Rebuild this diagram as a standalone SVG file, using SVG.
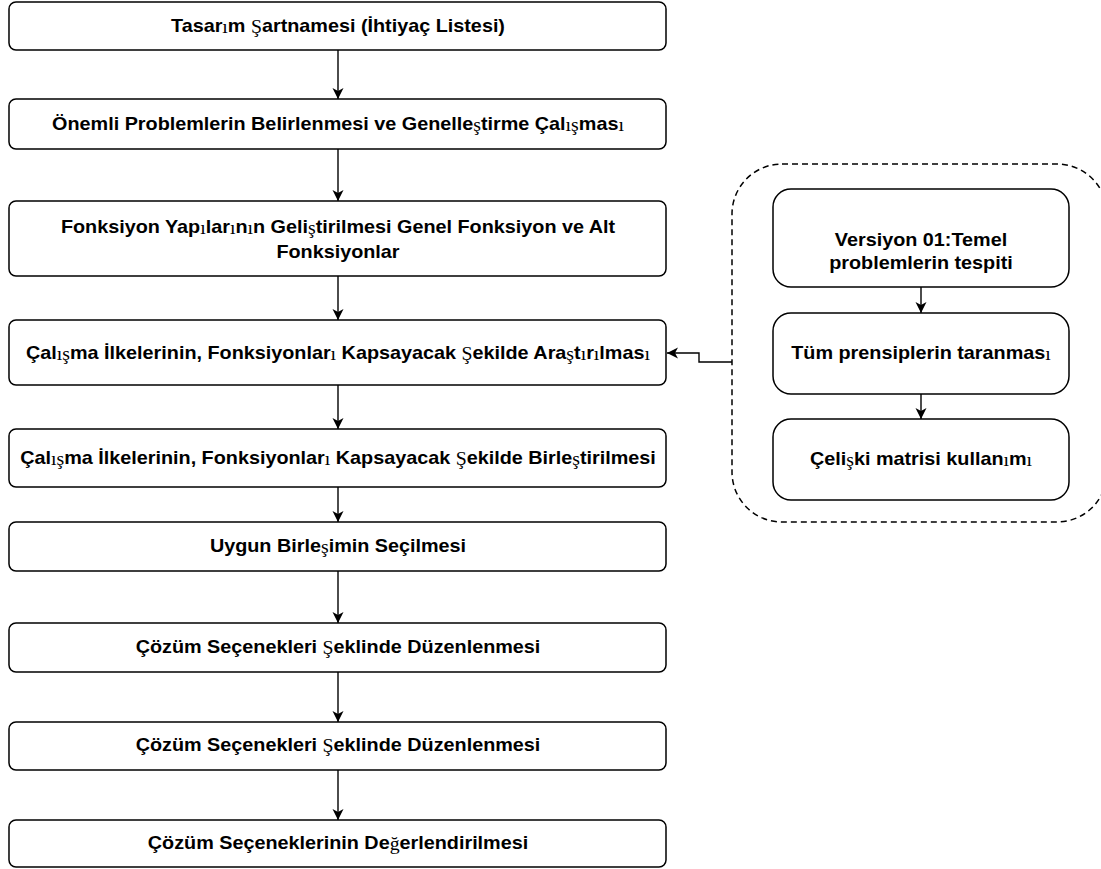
<svg xmlns="http://www.w3.org/2000/svg" width="1101" height="869" viewBox="0 0 1101 869">
<defs>
<style>
.box{fill:#fff;stroke:#000;stroke-width:1.5}
.t{font-family:"Liberation Sans",Arial,sans-serif;font-weight:bold;font-size:18px;fill:#000;text-anchor:middle;dominant-baseline:central}
.s{font-family:"Liberation Serif","Times New Roman",serif;font-weight:normal}
.ln{fill:none;stroke:#000;stroke-width:1.4}
.dash{fill:none;stroke:#000;stroke-width:1.5;stroke-dasharray:6 4}
</style>
<marker id="arr" markerUnits="userSpaceOnUse" markerWidth="12" markerHeight="12" refX="11" refY="6" orient="auto">
<path d="M0,0.5 L11,6 L0,11.5 L3,6 z" fill="#000"/>
</marker>
</defs>
<rect width="1101" height="869" fill="#fff"/>
<g id="container">
<rect class="dash" x="732" y="164" width="375" height="358" rx="50" ry="50"/>
</g>
<g id="connectors">
<line class="ln" x1="338" y1="50" x2="338" y2="99" marker-end="url(#arr)"/>
<line class="ln" x1="338" y1="149" x2="338" y2="201" marker-end="url(#arr)"/>
<line class="ln" x1="338" y1="276" x2="338" y2="320" marker-end="url(#arr)"/>
<line class="ln" x1="338" y1="385" x2="338" y2="429" marker-end="url(#arr)"/>
<line class="ln" x1="338" y1="487" x2="338" y2="522" marker-end="url(#arr)"/>
<line class="ln" x1="338" y1="571" x2="338" y2="623" marker-end="url(#arr)"/>
<line class="ln" x1="338" y1="672" x2="338" y2="722" marker-end="url(#arr)"/>
<line class="ln" x1="338" y1="770" x2="338" y2="820" marker-end="url(#arr)"/>
<line class="ln" x1="921" y1="287" x2="921" y2="313" marker-end="url(#arr)"/>
<line class="ln" x1="921" y1="394" x2="921" y2="419" marker-end="url(#arr)"/>
<polyline class="ln" points="732,362 699,362 699,353 667,353" marker-end="url(#arr)"/>
</g>
<g id="n1"><rect class="box" x="9" y="2" width="657" height="48" rx="7"/><text class="t" transform="translate(338,26) scale(1.1,1)">Tasar<tspan class="s">ı</tspan>m <tspan class="s">Ş</tspan>artnamesi (İhtiyaç Listesi)</text></g>
<g id="n2"><rect class="box" x="9" y="99" width="657" height="50" rx="7"/><text class="t" transform="translate(338,124) scale(1.1,1)">Önemli Problemlerin Belirlenmesi ve Genelle<tspan class="s">ş</tspan>tirme Çal<tspan class="s">ış</tspan>mas<tspan class="s">ı</tspan></text></g>
<g id="n3"><rect class="box" x="9" y="201" width="657" height="75" rx="7"/><text class="t" transform="translate(338,227) scale(1.1,1)">Fonksiyon Yap<tspan class="s">ı</tspan>lar<tspan class="s">ı</tspan>n<tspan class="s">ı</tspan>n Geli<tspan class="s">ş</tspan>tirilmesi Genel Fonksiyon ve Alt</text><text class="t" transform="translate(338,252) scale(1.1,1)">Fonksiyonlar</text></g>
<g id="n4"><rect class="box" x="9" y="320" width="657" height="65" rx="7"/><text class="t" transform="translate(338,353) scale(1.1,1)">Çal<tspan class="s">ış</tspan>ma İlkelerinin, Fonksiyonlar<tspan class="s">ı</tspan> Kapsayacak <tspan class="s">Ş</tspan>ekilde Ara<tspan class="s">ş</tspan>t<tspan class="s">ı</tspan>r<tspan class="s">ı</tspan>lmas<tspan class="s">ı</tspan></text></g>
<g id="n5"><rect class="box" x="9" y="429" width="657" height="58" rx="7"/><text class="t" transform="translate(338,458) scale(1.1,1)">Çal<tspan class="s">ış</tspan>ma İlkelerinin, Fonksiyonlar<tspan class="s">ı</tspan> Kapsayacak <tspan class="s">Ş</tspan>ekilde Birle<tspan class="s">ş</tspan>tirilmesi</text></g>
<g id="n6"><rect class="box" x="9" y="522" width="657" height="49" rx="7"/><text class="t" transform="translate(338,546) scale(1.1,1)">Uygun Birle<tspan class="s">ş</tspan>imin Seçilmesi</text></g>
<g id="n7"><rect class="box" x="9" y="623" width="657" height="49" rx="7"/><text class="t" transform="translate(338,647) scale(1.1,1)">Çözüm Seçenekleri <tspan class="s">Ş</tspan>eklinde Düzenlenmesi</text></g>
<g id="n8"><rect class="box" x="9" y="722" width="657" height="48" rx="7"/><text class="t" transform="translate(338,745) scale(1.1,1)">Çözüm Seçenekleri <tspan class="s">Ş</tspan>eklinde Düzenlenmesi</text></g>
<g id="n9"><rect class="box" x="9" y="820" width="657" height="47" rx="7"/><text class="t" transform="translate(338,843) scale(1.1,1)">Çözüm Seçeneklerinin De<tspan class="s">ğ</tspan>erlendirilmesi</text></g>
<g id="r1"><rect class="box" x="773" y="189" width="296" height="98" rx="18"/><text class="t" transform="translate(921,240) scale(1.1,1)">Versiyon 01:Temel</text><text class="t" transform="translate(921,263) scale(1.1,1)">problemlerin tespiti</text></g>
<g id="r2"><rect class="box" x="773" y="313" width="296" height="81" rx="18"/><text class="t" transform="translate(921,353) scale(1.1,1)">Tüm prensiplerin taranmas<tspan class="s">ı</tspan></text></g>
<g id="r3"><rect class="box" x="773" y="419" width="296" height="81" rx="18"/><text class="t" transform="translate(921,459) scale(1.1,1)">Çeli<tspan class="s">ş</tspan>ki matrisi kullan<tspan class="s">ı</tspan>m<tspan class="s">ı</tspan></text></g>
</svg>
